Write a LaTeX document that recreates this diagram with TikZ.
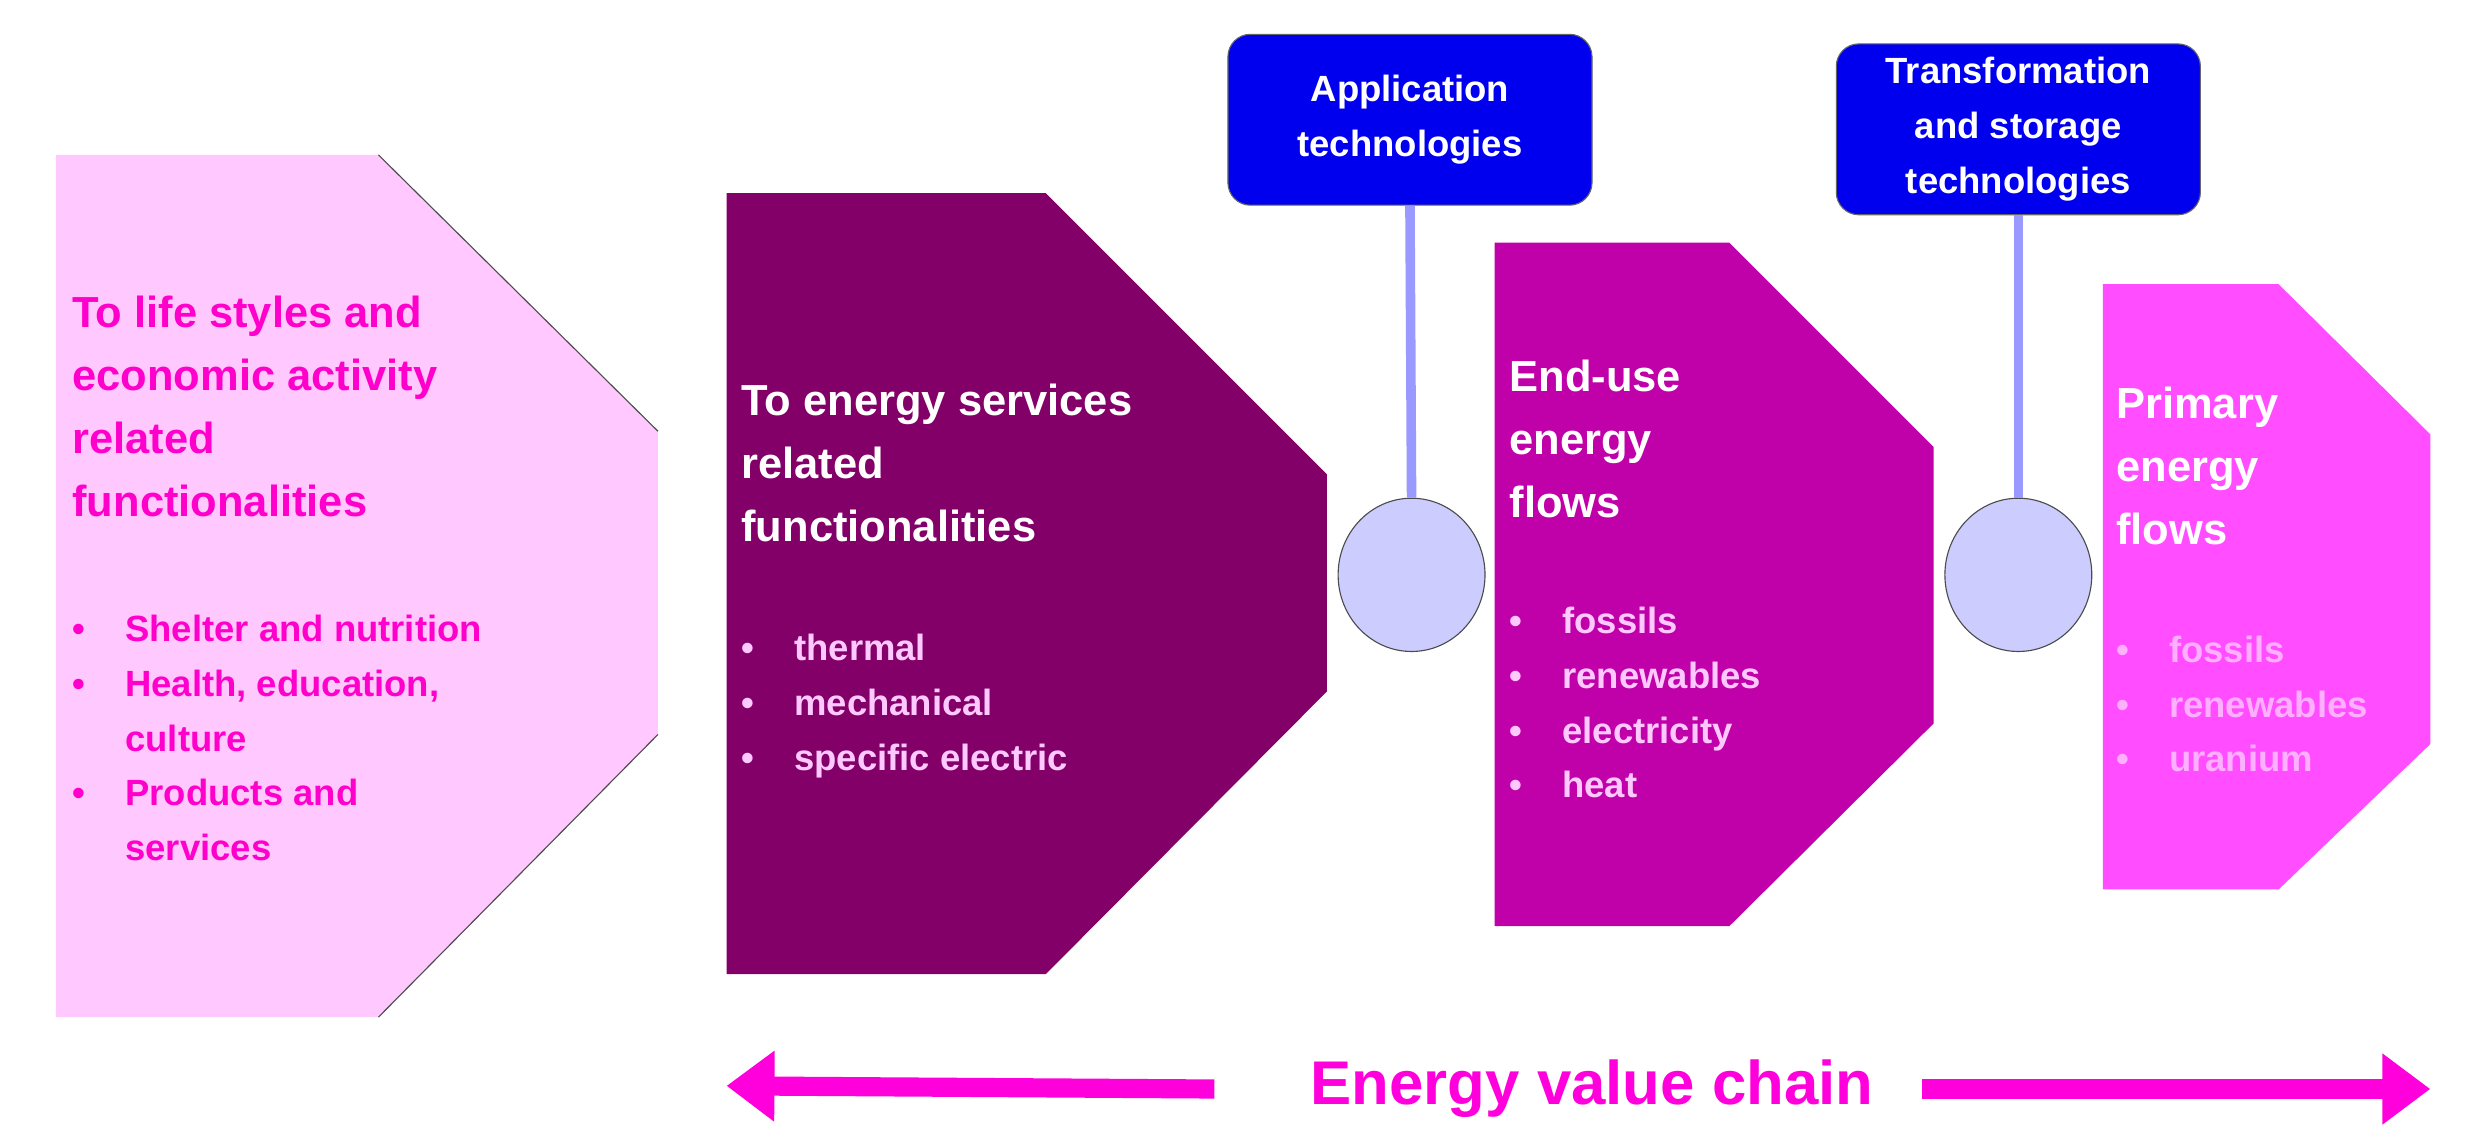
\documentclass[tikz,border=0pt]{standalone}
\usepackage{fontspec}
\setmainfont{Liberation Sans}
\usetikzlibrary{arrows.meta,shapes.geometric}
\definecolor{pinkA}{HTML}{FFC8FF}
\definecolor{purpB}{HTML}{820068}
\definecolor{purpC}{HTML}{C000A8}
\definecolor{pinkD}{HTML}{FF4DFF}
\definecolor{magT}{HTML}{FF00CC}
\definecolor{boxblue}{HTML}{0000EE}
\definecolor{circ}{HTML}{CCCCFF}
\definecolor{stem}{HTML}{9999FF}
\definecolor{arr}{HTML}{FF00DD}
\begin{document}
\begin{tikzpicture}[x=0.02cm,y=-0.02cm,
  title/.style={anchor=north west,align=left,inner sep=0pt,font=\fontsize{15.5}{22.5}\selectfont\bfseries},
  bul/.style={anchor=north west,align=left,inner sep=0pt,font=\fontsize{13}{19.5}\selectfont\bfseries},
  tech/.style={draw=black!60,fill=boxblue,rounded corners=8pt,text=white,align=center,
    font=\fontsize{13}{19.5}\selectfont\bfseries,minimum width=228*0.02cm,minimum height=107*0.02cm},
  hub/.style={draw=black!70,fill=circ,ellipse,minimum width=92*0.02cm,minimum height=96*0.02cm,inner sep=0pt},
  edge/.style={draw=black!70,thin}]
\useasboundingbox (0,0) rectangle (1550,713);
% shapes
\fill[pinkA] (35,97) -- (237,97) -- (412,270) -- (412,460) -- (237,637) -- (35,637) -- cycle;
\draw[edge] (237,97) -- (412,270) (412,460) -- (237,637);
\fill[purpB] (455,121) -- (655,121) -- (831,297) -- (831,433) -- (655,610) -- (455,610) -- cycle;
\fill[purpC] (936,152) -- (1083,152) -- (1211,280) -- (1211,453) -- (1083,580) -- (936,580) -- cycle;
\fill[pinkD] (1317,178) -- (1427,178) -- (1522,272) -- (1522,466) -- (1427,557) -- (1317,557) -- cycle;
% technologies
\node[tech] (app) at (883,75) {Application\\technologies};
\node[tech] (tra) at (1264,81) {Transformation\\and storage\\technologies};
\node[hub] (h1) at (884,360) {};
\node[hub] (h2) at (1264,360) {};
\draw[stem,line width=6*0.02cm] (app.south) -- (h1.north);
\draw[stem,line width=6*0.02cm] (tra.south) -- (h2.north);
% texts
\node[title,text=magT] (t1) at (45,185) {To life styles and\\economic activity\\related\\functionalities};
\node[bul,text=magT] (b1) at (45,385) {\textbullet\hspace{1.1em}Shelter and nutrition\\\textbullet\hspace{1.1em}Health, education,\\\hspace*{1.45em}culture\\\textbullet\hspace{1.1em}Products and\\\hspace*{1.45em}services};
\node[title,text=white] (t2) at (464,240) {To energy services\\related\\functionalities};
\node[bul,text=pinkA] (b2) at (464,397) {\textbullet\hspace{1.1em}thermal\\\textbullet\hspace{1.1em}mechanical\\\textbullet\hspace{1.1em}specific electric};
\node[title,text=white] (t3) at (945,225) {End-use\\energy\\flows};
\node[bul,text=pinkA] (b3) at (945,380) {\textbullet\hspace{1.1em}fossils\\\textbullet\hspace{1.1em}renewables\\\textbullet\hspace{1.1em}electricity\\\textbullet\hspace{1.1em}heat};
\node[title,text=white] (t4) at (1325,242) {Primary\\energy\\flows};
\node[bul,text=pinkA!80!pinkD] (b4) at (1325,398) {\textbullet\hspace{1.1em}fossils\\\textbullet\hspace{1.1em}renewables\\\textbullet\hspace{1.1em}uranium};
% value chain
\node[text=arr,font=\fontsize{22}{26}\selectfont\bfseries,inner sep=0pt] (vc) at (997,682) {Energy value chain};
\coordinate (la) at (455,680);
\coordinate (ra) at (1522,682);
\draw[arr,line width=12*0.02cm,-{Triangle[length=0.6cm,width=0.85cm]}] ([xshift=-1.2cm]vc.west) -- (la);
\draw[arr,line width=12*0.02cm,-{Triangle[length=0.6cm,width=0.85cm]}] ([xshift=0.6cm]vc.east) -- (ra);
\end{tikzpicture}
\end{document}
